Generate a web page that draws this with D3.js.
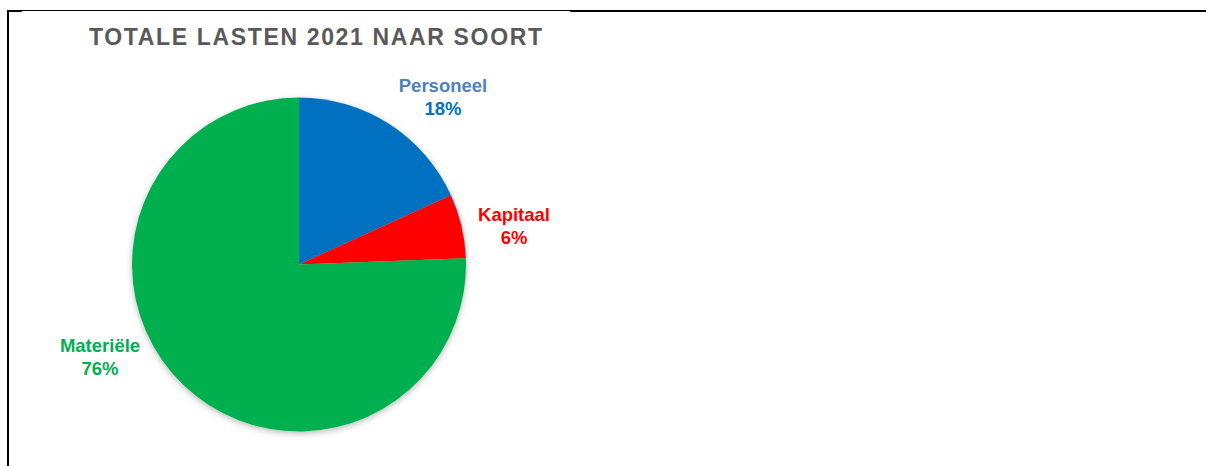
<!DOCTYPE html>
<html>
<head>
<meta charset="utf-8">
<style>
  body { margin: 0; background: #fff; }
  svg { display: block; }
  text { font-family: "Liberation Sans", Arial, sans-serif; font-weight: bold; }
</style>
<script src="https://d3js.org/d3.v7.min.js"></script>
</head>
<body>
<svg width="1206" height="466"></svg>
<script>

// data
var categories = ["Personeel", "Kapitaal", "Materiële"];
var values = [18.2, 6.2, 75.6];
var pctLabels = ["18%", "6%", "76%"];
var sliceColors = ["#0070C0", "#FF0000", "#00B050"];
var nameColors = ["#4F81BD", "#FF0000", "#00B050"];
var pctColors = ["#0070C0", "#FF0000", "#00B050"];

var svg = d3.select("svg");

// frame lines (table border)
var frame = svg.append("g").attr("stroke", "#000");
frame.append("line").attr("x1", 8).attr("y1", 10).attr("x2", 8).attr("y2", 466).attr("stroke-width", 2);
frame.append("line").attr("x1", 7).attr("y1", 11).attr("x2", 22).attr("y2", 11).attr("stroke-width", 2);
frame.append("line").attr("x1", 22).attr("y1", 10.5).attr("x2", 570).attr("y2", 10.5).attr("stroke-width", 1);
frame.append("line").attr("x1", 570).attr("y1", 11).attr("x2", 1206).attr("y2", 11).attr("stroke-width", 2);

// title
svg.append("text")
    .attr("x", 315.5)
    .attr("y", 45)
    .attr("text-anchor", "middle")
    .attr("fill", "#595959")
    .style("font-size", "23px")
    .attr("textLength", 453)
    .attr("lengthAdjust", "spacing")
    .text("TOTALE LASTEN 2021 NAAR SOORT");

// shadow
var defs = svg.append("defs");
var f = defs.append("filter").attr("id", "shadow")
    .attr("x", "-10%").attr("y", "-10%").attr("width", "120%").attr("height", "120%");
f.append("feDropShadow")
    .attr("dx", 0).attr("dy", 2)
    .attr("stdDeviation", 3)
    .attr("flood-color", "#000")
    .attr("flood-opacity", 0.28);

var cx = 299, cy = 264.5, radius = 167;

var pie = d3.pie().sort(null).value(function(d) { return d; });
var arc = d3.arc().innerRadius(0).outerRadius(radius);
var color = d3.scaleOrdinal().domain(categories).range(sliceColors);

var arcs = pie(values);

var g = svg.append("g")
    .attr("transform", "translate(" + cx + "," + cy + ")");

var slices = g.append("g").attr("filter", "url(#shadow)");
slices.selectAll("path")
    .data(arcs)
  .enter().append("path")
    .attr("d", arc)
    .attr("fill", function(d, i) { return color(categories[i]); });

// label positions (outside the pie, Excel "best fit")
var labelPos = [[443, 92], [514, 221], [100, 352]];

var labels = svg.append("g");
arcs.forEach(function(d, i) {
  var t = labels.append("text")
      .attr("text-anchor", "middle")
      .style("font-size", "18.5px")
      .attr("x", labelPos[i][0])
      .attr("y", labelPos[i][1]);
  t.append("tspan").attr("fill", nameColors[i]).text(categories[i]);
  t.append("tspan")
      .attr("x", labelPos[i][0])
      .attr("dy", 23)
      .attr("fill", pctColors[i])
      .text(pctLabels[i]);
});

</script>
</body>
</html>
